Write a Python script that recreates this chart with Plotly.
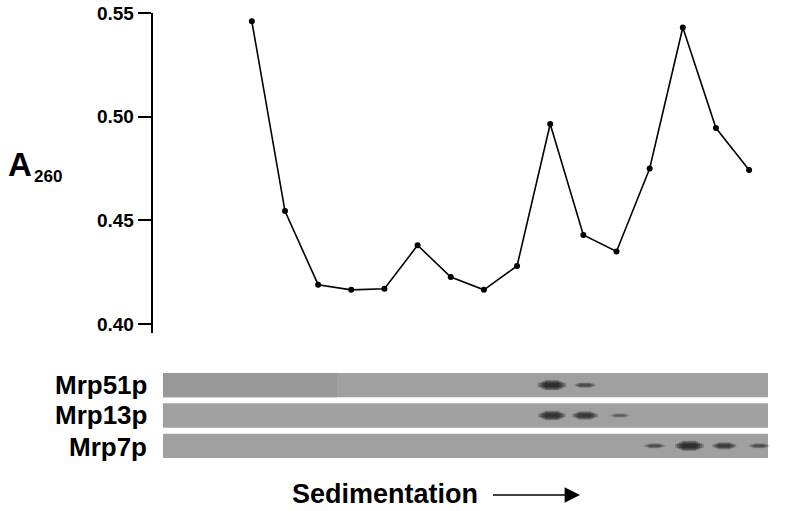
import plotly.graph_objects as go

# ---- data ----
fractions = list(range(1, 17))
a260 = [0.546, 0.4545, 0.419, 0.4165, 0.417, 0.438, 0.4227, 0.4165,
        0.428, 0.4965, 0.443, 0.435, 0.475, 0.543, 0.4945, 0.4743]
y_ticks = [0.40, 0.45, 0.50, 0.55]
y_ticklabels = ["0.40", "0.45", "0.50", "0.55"]

proteins = ["Mrp51p", "Mrp13p", "Mrp7p"]
mrp51_pos = [10.05, 11.05]
mrp51_int = [1.0, 0.35]
mrp13_pos = [10.05, 11.05, 12.1]
mrp13_int = [0.9, 0.75, 0.15]
mrp7_pos = [13.15, 14.2, 15.25, 16.3]
mrp7_int = [0.3, 1.0, 0.6, 0.3]
bands = [(mrp51_pos, mrp51_int), (mrp13_pos, mrp13_int), (mrp7_pos, mrp7_int)]

W, H = 800, 511
FONT = "Arial, Liberation Sans, Helvetica, sans-serif"

def px_x(p):
    return p / W

def px_y(p):
    return 1 - p / H

fig = go.Figure()

# A260 profile
fig.add_trace(go.Scatter(
    x=fractions, y=a260, mode="lines+markers",
    line=dict(color="black", width=1.6),
    marker=dict(color="black", size=6),
    xaxis="x", yaxis="y", showlegend=False, hoverinfo="x+y"))

# blot bands: stacked segments give a soft, elliptical band
for row, (pos, inten) in enumerate(bands):
    for p, v in zip(pos, inten):
        half = 0.27 + 0.16 * v
        thick = 2.8 + 7.5 * v
        for k in range(5):
            fig.add_trace(go.Scatter(
                x=[p - half * (1 - 0.13 * k), p + half * (1 - 0.13 * k)],
                y=[row, row], mode="lines",
                line=dict(color=f"rgba(20,20,20,{0.11 + 0.16 * v:.2f})",
                          width=thick * (0.35 + 0.16 * k)),
                xaxis="x2", yaxis="y2", showlegend=False, hoverinfo="skip"))

x_left, x_right = 152.7, 770
xr = [-1.99, 16.63]

shapes = []
for row in range(3):
    shapes.append(dict(type="rect", xref="paper", yref="y2",
                       x0=px_x(163), x1=px_x(768), y0=row - 0.4, y1=row + 0.4,
                       fillcolor="#a0a0a0", line=dict(width=0), layer="below"))
shapes.append(dict(type="rect", xref="paper", yref="y2",
                   x0=px_x(163), x1=px_x(337), y0=-0.4, y1=0.4,
                   fillcolor="#989898", line=dict(width=0), layer="below"))

annotations = []
annotations.append(dict(xref="paper", yref="paper", x=px_x(6), y=px_y(164),
                        xanchor="left", yanchor="middle", showarrow=False,
                        text="<b>A</b>",
                        font=dict(family=FONT, size=33, color="black")))
annotations.append(dict(xref="paper", yref="paper", x=px_x(32), y=px_y(176),
                        xanchor="left", yanchor="middle", showarrow=False,
                        text="<b>260</b>",
                        font=dict(family=FONT, size=17, color="black")))
label_y = [384.5, 414.5, 446.5]
for name, ly in zip(proteins, label_y):
    annotations.append(dict(xref="paper", yref="paper", x=px_x(149), y=px_y(ly),
                            xanchor="right", yanchor="middle", showarrow=False,
                            text=f"<b>{name}</b>",
                            font=dict(family=FONT, size=26, color="black")))
annotations.append(dict(xref="paper", yref="paper", x=px_x(290), y=px_y(494),
                        xanchor="left", yanchor="middle", showarrow=False,
                        text="<b>Sedimentation</b>",
                        font=dict(family=FONT, size=27, color="black")))
annotations.append(dict(xref="paper", yref="paper", x=px_x(580), y=px_y(495),
                        axref="pixel", ayref="pixel", ax=-90, ay=0,
                        showarrow=True, arrowhead=2, arrowsize=2.2, arrowwidth=1.4,
                        arrowcolor="black", text=" "))

fig.update_layout(
    width=W, height=H,
    margin=dict(l=0, r=0, t=0, b=0, autoexpand=False),
    paper_bgcolor="white", plot_bgcolor="white",
    xaxis=dict(domain=[px_x(x_left), px_x(x_right)], range=xr,
               visible=False, fixedrange=True, automargin=False),
    yaxis=dict(domain=[px_y(333), px_y(13)], range=[0.3957, 0.55],
               tickvals=y_ticks, ticktext=[f"<b>{t}</b>" for t in y_ticklabels],
               ticks="outside", ticklen=13, tickwidth=2, tickcolor="black",
               showline=True, linecolor="black", linewidth=2,
               showgrid=False, zeroline=False, automargin=False,
               ticklabeloverflow="allow",
               tickfont=dict(family=FONT, size=19, color="black"),
               ticklabelstandoff=0),
    xaxis2=dict(domain=[px_x(x_left), px_x(x_right)], range=xr,
                visible=False, anchor="y2", fixedrange=True, automargin=False),
    yaxis2=dict(domain=[px_y(461), px_y(370)], range=[2.5, -0.5],
                visible=False, anchor="x2", fixedrange=True, automargin=False),
    shapes=shapes, annotations=annotations,
    showlegend=False,
)

fig.write_html("out.html",
               config={"displayModeBar": False},
               post_script="document.body.style.margin='0';")
